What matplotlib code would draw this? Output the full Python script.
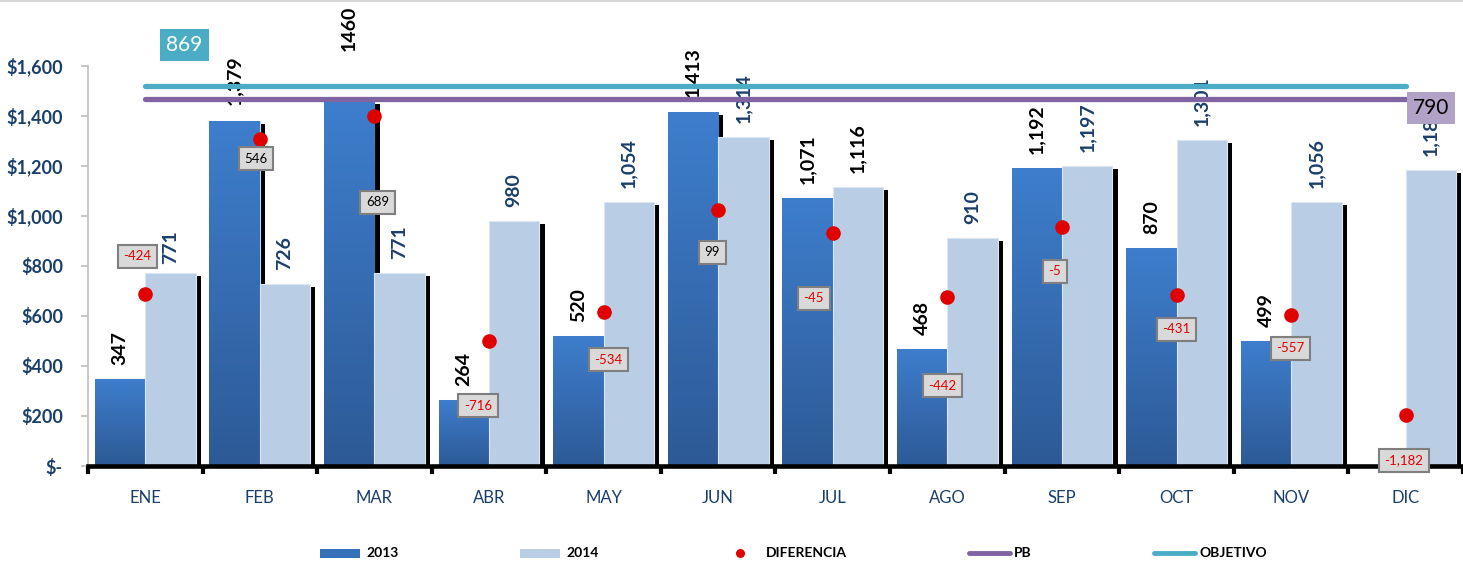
import numpy as np
import matplotlib
matplotlib.use("Agg")
import matplotlib.pyplot as plt
from matplotlib.colors import LinearSegmentedColormap
from matplotlib.lines import Line2D
from matplotlib.patches import Rectangle
from matplotlib.ticker import FuncFormatter, FixedLocator

plt.rcParams['font.family'] = ['Lato', 'DejaVu Sans']

# ---------------- data ----------------
months = ['ENE', 'FEB', 'MAR', 'ABR', 'MAY', 'JUN', 'JUL', 'AGO', 'SEP', 'OCT', 'NOV', 'DIC']
v2013 = [347, 1379, 1460, 264, 520, 1413, 1071, 468, 1192, 870, 499, 0]
v2014 = [771, 726, 771, 980, 1054, 1314, 1116, 910, 1197, 1301, 1056, 1182]
lab2013 = ['347', '1,379', '1460', '264', '520', '1,413', '1,071', '468', '1,192', '870', '499', '']
lab2014 = ['771', '726', '771', '980', '1,054', '1,314', '1,116', '910', '1,197', '1,301', '1,056', '1,182']
diferencia = [-424, 546, 689, -716, -534, 99, -45, -442, -5, -431, -557, -1182]
diff_labels = ['-424', '546', '689', '-716', '-534', '99', '-45', '-442', '-5', '-431', '-557', '-1,182']
pb_value = 1466
objetivo_value = 1518
pb_box = '790'
objetivo_box = '869'
yticks = [0, 200, 400, 600, 800, 1000, 1200, 1400, 1600]

# ---------------- style ----------------
W, H = 1463, 565
NAVY = '#1B3F6B'
LIGHT = '#B9CDE5'
RED = '#E00000'
PURPLE = '#8064A2'
CYAN = '#4BACC6'
c2014_lab = [NAVY] * 6 + ['black'] + [NAVY] * 5
# label offsets (px): value-label gap above bar, diff-box offset from dot
gap13 = [14, 16, 50, 14, 14, 15, 14, 14, 14, 14, 14, 14]
gap14 = [9, 14, 14, 14, 14, 14, 14, 14, 14, 14, 14, 14]
diff_off = [(-8, -38), (-4, 20), (3, 86), (-11, 65), (5, 48), (-6, 42),
            (-19, 65), (-5, 89), (-7, 44), (0, 34), (-1, 33), (-2, 45)]

fig = plt.figure(figsize=(W / 100, H / 100), dpi=100)
ax = fig.add_axes([88 / W, 99 / H, 1 - 88 / W, 466 / H])
ax.set_zorder(1)

x = np.arange(len(months))
bw = 0.44
sdx = 0.045   # shadow x offset
sdy = 12      # shadow y offset (data units)

v13 = np.array(v2013, dtype=float)
v14 = np.array(v2014, dtype=float)

# shadows
ax.bar(x - bw + sdx, np.clip(v13 - sdy, 0, None), width=bw, align='edge', color='black', zorder=1.5)
ax.bar(x + sdx, np.clip(v14 - sdy, 0, None), width=bw, align='edge', color='black', zorder=1.7)

bars13 = ax.bar(x - bw, v13, width=bw, align='edge', color='#3570B8',
                edgecolor='#C9D9EE', linewidth=0.8, zorder=1.6)
bars14 = ax.bar(x, v14, width=bw, align='edge', color=LIGHT,
                edgecolor='#DCE6F2', linewidth=0.8, zorder=1.8)

cmap = LinearSegmentedColormap.from_list('g', ['#2D5A96', '#3E7ECD'])
grad = np.linspace(0, 1, 256).reshape(-1, 1)
for r in bars13:
    h = r.get_height()
    if h <= 0:
        continue
    x0 = r.get_x()
    im = ax.imshow(grad, extent=[x0, x0 + r.get_width(), 0, h], origin='lower',
                   cmap=cmap, aspect='auto', zorder=1.65, interpolation='bilinear')
    im.set_clip_path(r)

ymax = 1862
ax.set_xlim(-0.5, 11.389)
ax.set_ylim(0, ymax)

# reference lines
ax.plot(x, np.full(len(x), objetivo_value), color=CYAN, lw=3.8, solid_capstyle='round', zorder=5)
ax.plot(x, np.full(len(x), pb_value), color=PURPLE, lw=3.8, solid_capstyle='round', zorder=5)

# value labels
for i in range(len(x)):
    if lab2013[i]:
        ax.annotate(lab2013[i], (x[i] - bw / 2, v13[i]), xytext=(0, gap13[i] * 0.72),
                    textcoords='offset points', rotation=90, ha='center', va='bottom',
                    fontsize=14, fontweight='bold', color='black', zorder=4)
    ax.annotate(lab2014[i], (x[i] + bw / 2, v14[i]), xytext=(0, gap14[i] * 0.72),
                textcoords='offset points', rotation=90, ha='center', va='bottom',
                fontsize=14, fontweight='bold', color=c2014_lab[i], zorder=4,
                annotation_clip=False)

# axes styling
for s in ['top', 'right']:
    ax.spines[s].set_visible(False)
ax.spines['left'].set_color('#BFBFBF')
ax.spines['left'].set_linewidth(1.2)
ax.spines['left'].set_bounds(0, 1600)
ax.spines['bottom'].set_color('black')
ax.spines['bottom'].set_linewidth(3.3)
ax.spines['bottom'].set_zorder(6)

ax.yaxis.set_major_locator(FixedLocator(yticks))
ax.yaxis.set_major_formatter(FuncFormatter(lambda v, p: '$-' if v == 0 else '${:,.0f}'.format(v)))
ax.tick_params(axis='y', length=5, width=1.2, color='#BFBFBF', pad=13,
               labelsize=13, labelcolor=NAVY)
for t in ax.get_yticklabels():
    t.set_fontweight('bold')

ax.set_xticks(x)
ax.set_xticklabels(months)
ax.tick_params(axis='x', which='major', length=0, pad=17, labelsize=12, labelcolor=NAVY)
ax.set_xticks(np.arange(-0.5, 12, 1.0), minor=True)
ax.tick_params(axis='x', which='minor', length=6, width=3, color='black', direction='out')

# diferencia on hidden secondary axis
ax2 = ax.twinx()
ax2.set_zorder(2)
k = 0.639
b0 = 958
ax2.set_ylim((0 - b0) / k, (ymax - b0) / k)
ax2.set_xlim(ax.get_xlim())
ax2.axis('off')
ax2.plot(x, diferencia, linestyle='none', marker='o', markersize=10.5,
         color=RED, markeredgewidth=0, zorder=3)
for i in range(len(x)):
    dx, dy = diff_off[i]
    ax2.annotate(diff_labels[i], (x[i], diferencia[i]), xytext=(dx * 0.72, -dy * 0.72),
                 textcoords='offset points', ha='center', va='center', fontsize=9.5,
                 color=(RED if diferencia[i] < 0 else 'black'), zorder=4,
                 bbox=dict(boxstyle='square,pad=0.42', facecolor='#D9D9D9',
                           edgecolor='#7F7F7F', linewidth=1.5))

# boxes 869 / 790
def fx(px):
    return px / W

def fy(py):
    return 1 - py / H

fig.text(fx(184.5), fy(45), objetivo_box, ha='center', va='center', fontsize=15,
         color='white', zorder=10,
         bbox=dict(boxstyle='square,pad=0.3', facecolor=CYAN, edgecolor='none'))
fig.text(fx(1431), fy(108), pb_box, ha='center', va='center', fontsize=15,
         color='black', zorder=10,
         bbox=dict(boxstyle='square,pad=0.28', facecolor='#B3A2C7', edgecolor='none'))

# top border
fig.add_artist(Line2D([0, 1], [fy(0.8), fy(0.8)], color='#D0D0D0', lw=1.2))

# legend
ly = 553
fig.add_artist(Rectangle((fx(320), fy(558)), fx(360) - fx(320), fy(549) - fy(558),
                         facecolor='#3570B8', edgecolor='none'))
fig.text(fx(366), fy(ly), '2013', ha='left', va='center', fontsize=10, fontweight='bold')
fig.add_artist(Rectangle((fx(520), fy(558)), fx(560) - fx(520), fy(549) - fy(558),
                         facecolor=LIGHT, edgecolor='none'))
fig.text(fx(566), fy(ly), '2014', ha='left', va='center', fontsize=10, fontweight='bold')
fig.add_artist(Line2D([fx(740)], [fy(ly)], marker='o', markersize=6.5, color=RED,
                      markeredgewidth=0, linestyle='none'))
fig.text(fx(766), fy(ly), 'DIFERENCIA', ha='left', va='center', fontsize=10, fontweight='bold')
fig.add_artist(Line2D([fx(969), fx(1010)], [fy(ly), fy(ly)], color=PURPLE, lw=3.5,
                      solid_capstyle='round'))
fig.text(fx(1014), fy(ly), 'PB', ha='left', va='center', fontsize=10, fontweight='bold')
fig.add_artist(Line2D([fx(1154), fx(1195)], [fy(ly), fy(ly)], color=CYAN, lw=3.5,
                      solid_capstyle='round'))
fig.text(fx(1199), fy(ly), 'OBJETIVO', ha='left', va='center', fontsize=10, fontweight='bold')

fig.savefig('out.png', dpi=100)
